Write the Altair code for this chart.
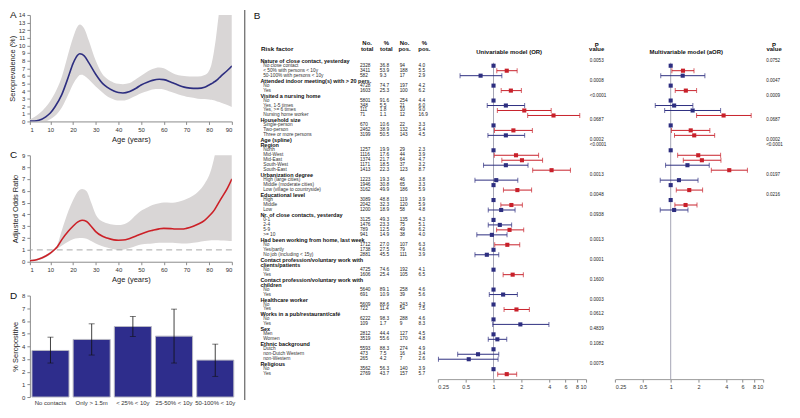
import altair as alt
import pandas as pd

FONT = "Liberation Sans"
RED = "#c8202a"
BLUE = "#2d2e80"
BAND = "#d9d6d6"
BAR = "#2e2d8c"

# ---------------- Panel A: seroprevalence by age ----------------
a_age = [1, 3, 5, 8, 10, 12, 15, 18, 20, 22, 23, 24, 25, 27, 30, 33, 35, 38, 40, 42,
         45, 48, 50, 53, 55, 58, 60, 63, 65, 68, 70, 73, 75, 78, 80, 81, 82, 83, 84, 85, 88, 90]
a_est = [0.05, 0.05, 0.15, 0.6, 1.1, 1.9, 3.5, 5.9, 7.6, 8.7, 8.9, 8.85, 8.6, 7.7, 6.2, 5.0, 4.5, 4.0, 3.8, 3.75,
         3.95, 4.4, 4.8, 5.2, 5.4, 5.55, 5.5, 5.2, 4.95, 4.6, 4.45, 4.35, 4.35, 4.5, 4.8, 4.95, 5.15, 5.35, 5.6, 5.9, 6.7, 7.3]
a_hi = [0.3, 0.6, 1.0, 1.9, 2.7, 3.7, 5.8, 9.0, 11.0, 12.5, 12.75, 12.6, 12.2, 10.6, 8.0, 6.2, 5.6, 5.1, 4.95, 4.9,
        5.05, 5.6, 6.0, 6.6, 6.9, 7.1, 7.0, 6.5, 6.2, 6.0, 5.95, 5.9, 5.9, 6.1, 6.7, 7.5, 9.0, 11.0, 13.5, 16.0, 24.0, 30.0]
a_lo = [0.0, 0.0, 0.0, 0.05, 0.3, 0.7, 1.8, 3.6, 4.9, 5.8, 6.1, 6.15, 6.0, 5.5, 4.6, 3.8, 3.3, 2.9, 2.75, 2.75,
        3.0, 3.4, 3.7, 4.0, 4.2, 4.25, 4.2, 3.9, 3.7, 3.4, 3.25, 3.1, 3.0, 2.95, 2.9, 2.85, 2.8, 2.7, 2.6, 2.5, 2.15, 1.9]

# ---------------- Panel C: adjusted odds ratio by age ----------------
c_age = [1, 3, 5, 8, 10, 12, 13, 15, 18, 20, 22, 24, 26, 28, 30, 33, 35, 38, 40, 42,
         45, 48, 50, 53, 55, 58, 60, 63, 65, 68, 70, 73, 75, 78, 80, 82, 83, 85, 88, 90]
c_est = [0.08, 0.12, 0.22, 0.48, 0.72, 1.05, 1.25, 1.85, 2.6, 3.0, 3.35, 3.5, 3.4, 3.0, 2.55, 2.15, 2.0, 1.85, 1.82, 1.83,
         1.97, 2.2, 2.35, 2.55, 2.65, 2.78, 2.82, 2.8, 2.77, 2.76, 2.82, 3.0, 3.17, 3.5, 3.87, 4.3, 4.6, 5.25, 6.2, 7.0]
c_hi = [0.18, 0.22, 0.32, 0.58, 0.82, 1.15, 1.4, 2.6, 4.3, 5.2, 5.9, 6.15, 5.95, 5.0, 4.0, 3.4, 3.25, 3.12, 3.1, 3.15,
        3.45, 4.0, 4.3, 4.6, 4.8, 4.95, 5.0, 4.98, 5.0, 5.15, 5.3, 5.6, 5.9, 6.6, 7.3, 8.6, 9.5, 11.5, 16.0, 20.0]
c_lo = [0.03, 0.06, 0.14, 0.38, 0.62, 0.95, 1.1, 1.35, 1.7, 1.9, 1.98, 2.0, 1.95, 1.75, 1.55, 1.3, 1.2, 1.05, 1.0, 1.02,
        1.15, 1.35, 1.45, 1.52, 1.55, 1.6, 1.6, 1.6, 1.58, 1.55, 1.55, 1.6, 1.65, 1.75, 1.8, 1.82, 1.82, 1.8, 1.78, 1.75]

# ---------------- Panel D: % seropositive by contact type ----------------
d_cat = ["No contacts", "Only > 1.5m", "< 25% < 10y", "25-50% < 10y", "50-100% < 10y"]
d_val = [3.67, 4.54, 5.56, 4.80, 2.91]
d_lo = [2.68, 3.31, 4.78, 2.68, 1.63]
d_hi = [4.72, 5.77, 6.35, 6.93, 4.17]

# ---------------- Panel B: risk factor table ----------------
tbl_label = [
    "Nature of close contact, yesterday", "No close contact", "< 50% with persons < 10y", "50-100% with persons < 10y",
    "Attended indoor meeting(s) with > 20 pers.", "No", "Yes",
    "Visited a nursing home", "No", "Yes, 1-5 times", "Yes, >= 6 times", "Nursing home worker",
    "Household size", "Single-person", "Two-person", "Three or more persons",
    "Age (spline)",
    "Region", "North", "Mid-West", "Mid-East", "South-West", "South-East",
    "Urbanization degree", "High (large cities)", "Middle (moderate cities)", "Low (village to countryside)",
    "Educational level", "High", "Middle", "Low",
    "Nr. of close contacts, yesterday", "0-1", "2-4", "5-9", ">= 10",
    "Had been working from home, last week", "No", "Yes/partly", "No job (including < 15y)",
    "Contact profession/voluntary work with", "clients/patients", "No", "Yes",
    "Contact profession/voluntary work with", "children", "No", "Yes",
    "Healthcare worker", "No", "Yes",
    "Works in a pub/restaurant/café", "No", "Yes",
    "Sex", "Men", "Women",
    "Ethnic background", "Dutch", "non-Dutch Western", "non-Western",
    "Religious", "No", "Yes",
]
tbl_ntot = [None, 2328, 3411, 582, None, 4728, 1603, None, 5801, 348, 111, 71, None, 670, 2462, 3199,
            None, None, 1257, 1116, 1374, 1171, 1413, None, 1223, 1946, 3162, None, 3089, 2042, 1200,
            None, 3125, 1476, 789, 941, None, 1712, 1738, 2881, None, None, 4725, 1606, None, None, 5640, 691,
            None, 5609, 722, None, 6222, 109, None, 2812, 3519, None, 5593, 473, 265, None, 3562, 2769]
tbl_ptot = [None, 36.8, 53.9, 9.3, None, 74.7, 25.3, None, 91.6, 5.5, 1.8, 1.1, None, 10.6, 38.9, 50.5,
            None, None, 19.9, 17.6, 21.7, 18.5, 22.3, None, 19.3, 30.8, 49.9, None, 48.8, 32.3, 18.9,
            None, 49.3, 23.3, 12.5, 14.9, None, 27.0, 27.5, 45.5, None, None, 74.6, 25.4, None, None, 89.1, 10.9,
            None, 88.6, 11.4, None, 98.3, 1.7, None, 44.4, 55.6, None, 88.3, 7.5, 4.2, None, 56.3, 43.7]
tbl_npos = [None, 94, 188, 17, None, 197, 100, None, 254, 21, 10, 12, None, 22, 132, 143,
            None, None, 29, 44, 64, 37, 123, None, 46, 65, 186, None, 119, 120, 58,
            None, 135, 75, 49, 38, None, 107, 79, 111, None, None, 192, 105, None, None, 258, 39,
            None, 243, 54, None, 288, 9, None, 127, 170, None, 274, 16, 7, None, 140, 157]
tbl_ppos = [None, 4.0, 5.5, 2.9, None, 4.2, 6.2, None, 4.4, 6.0, 9.0, 16.9, None, 3.3, 5.4, 4.5,
            None, None, 2.3, 3.9, 4.7, 3.2, 8.7, None, 3.8, 3.3, 5.9, None, 3.9, 5.9, 4.8,
            None, 4.3, 5.1, 6.2, 4.0, None, 6.3, 4.6, 3.9, None, None, 4.1, 6.5, None, None, 4.6, 5.6,
            None, 4.3, 7.5, None, 4.6, 8.3, None, 4.5, 4.8, None, 4.9, 3.4, 2.6, None, 3.9, 5.7]

# univariable model (row slot, OR, CI low, CI high)
uni_ref = [0, 4, 7, 12, 17, 24, 27, 31, 37, 41, 45, 48, 51, 54, 57, 61]
uni_slot = [1, 2, 5, 8, 9, 10, 13, 14, 18, 19, 20, 21, 23, 25, 28, 29, 32, 33, 34, 36, 38, 42, 46, 49, 52, 55, 58, 59, 62]
uni_or = [1.39, 0.725, 1.54, 1.36, 2.15, 4.45, 1.64, 1.36, 1.75, 2.03, 1.36, 4.24, 1.07, 1.81, 1.56, 1.21, 1.17, 1.49,
          0.96, 1.41, 0.847, 1.61, 1.27, 1.77, 1.95, 1.10, 0.68, 0.54, 1.39]
uni_lo = [1.085, 0.435, 1.21, 0.855, 1.10, 2.34, 1.025, 0.87, 1.02, 1.23, 0.78, 2.65, 0.63, 1.28, 1.20, 0.877, 0.877, 1.08,
          0.66, 1.03, 0.63, 1.27, 0.90, 1.30, 0.98, 0.877, 0.41, 0.254, 1.11]
uni_hi = [1.80, 1.23, 2.00, 2.17, 4.20, 8.55, 2.63, 2.17, 3.07, 3.39, 2.36, 6.78, 1.83, 2.58, 2.05, 1.71, 1.57, 2.12,
          1.40, 1.92, 1.14, 2.10, 1.81, 2.44, 3.97, 1.39, 1.14, 1.12, 1.78]
uni_p_slot = [-1, 3, 6, 11, 15, 16, 22, 26, 30, 35, 39, 43, 47, 50, 53, 56, 60]
uni_p = ["0.0053", "0.0008", "<0.0001", "0.0687", "0.0002", "<0.0001", "0.0013", "0.0048", "0.0938",
         "0.0013", "0.0001", "0.1600", "0.0003", "0.0612", "0.4839", "0.1082", "0.0075"]

# multivariable model
mul_ref = [0, 4, 7, 12, 17, 24, 27]
mul_slot = [1, 2, 5, 8, 9, 10, 13, 14, 18, 19, 20, 21, 23, 25, 28, 29]
mul_or = [1.36, 1.35, 1.46, 1.09, 1.73, 3.75, 1.65, 1.80, 1.99, 2.18, 1.52, 4.32, 1.23, 1.59, 1.45, 1.09]
mul_lo = [1.03, 0.78, 1.12, 0.68, 0.86, 1.91, 1.02, 1.10, 1.19, 1.37, 0.88, 2.76, 0.77, 1.15, 1.11, 0.77]
mul_hi = [1.79, 2.35, 1.91, 1.74, 3.48, 7.47, 2.66, 3.00, 3.48, 3.51, 2.62, 6.80, 1.98, 2.22, 1.93, 1.54]
mul_p_slot = [-1, 3, 6, 11, 15, 16, 22, 26]
mul_p = ["0.0752", "0.0047", "0.0009", "0.0687", "0.0002", "<0.0001", "0.0197", "0.0216"]

or_ticks = [0.25, 0.5, 1, 2, 4, 6, 8, 10]

# ====================== left column ======================
AGE_TICKS = [1, 10, 20, 30, 40, 50, 60, 70, 80, 90]


def panel_label(t):
    return alt.Chart(pd.DataFrame({"t": [t]})).mark_text(
        fontSize=10, align="left", baseline="top", color="#111"
    ).encode(text="t:N", x=alt.value(-20), y=alt.value(-5))


def curve_panel(age, est, lo, hi, color, ymax, title, label, height, extra=None):
    df = pd.DataFrame({"age": age, "est": est, "lo": lo, "hi": hi})
    xax = alt.Axis(values=AGE_TICKS, title="Age (years)", titlePadding=3, labelOverlap=False)
    yax = alt.Axis(values=list(range(ymax + 1)), title=title, labelOverlap=False, titlePadding=2)
    xs = alt.Scale(domain=[1, 90], nice=False, zero=False)
    ys = alt.Scale(domain=[0, ymax], nice=False)
    band = alt.Chart(df).mark_area(color=BAND, interpolate="monotone", clip=True).encode(
        x=alt.X("age:Q", scale=xs, axis=xax),
        y=alt.Y("lo:Q", scale=ys, axis=yax),
        y2="hi:Q",
    )
    line = alt.Chart(df).mark_line(color=color, strokeWidth=1.6, interpolate="monotone", clip=True).encode(
        x=alt.X("age:Q", scale=xs, axis=xax), y=alt.Y("est:Q", scale=ys, axis=yax)
    )
    layers = [band]
    if extra is not None:
        layers.append(extra)
    layers += [line, panel_label(label)]
    return alt.layer(*layers).properties(width=203, height=height)


dash = alt.Chart(pd.DataFrame({"y": [1]})).mark_rule(color="#a8a8a8", strokeDash=[6, 4], strokeWidth=1).encode(
    y=alt.Y("y:Q", axis=alt.Axis(values=list(range(10)), title="Adjusted Odds Ratio", labelOverlap=False,
                                 titlePadding=2)))

A = curve_panel(a_age, a_est, a_lo, a_hi, BLUE, 14, "Seroprevalence (%)", "A", 107)
C = curve_panel(c_age, c_est, c_lo, c_hi, "#cc2027", 9, "Adjusted Odds Ratio", "C", 107, extra=dash)

ddf = pd.DataFrame({"cat": d_cat, "val": d_val, "lo": d_lo, "hi": d_hi})
dx = alt.X("cat:N", sort=d_cat, scale=alt.Scale(paddingInner=0.1, paddingOuter=0.05),
           axis=alt.Axis(title=None, labelAngle=0, domain=False, ticks=False, labelPadding=3))
dyax = alt.Axis(values=list(range(9)), title="% Seropositive", labelOverlap=False, titlePadding=2)
dys = alt.Scale(domain=[0, 8], nice=False)
bars = alt.Chart(ddf).mark_bar(color=BAR, stroke="#b8b8c4", strokeWidth=1).encode(
    x=dx, y=alt.Y("val:Q", scale=dys, axis=dyax))
err = alt.Chart(ddf).mark_rule(color="#111", strokeWidth=0.8).encode(
    x=dx, y=alt.Y("lo:Q", scale=dys, axis=dyax), y2="hi:Q")
cap_hi = alt.Chart(ddf).mark_tick(color="#111", size=6, thickness=0.8).encode(
    x=dx, y=alt.Y("hi:Q", scale=dys, axis=dyax))
cap_lo = alt.Chart(ddf).mark_tick(color="#111", size=6, thickness=0.8).encode(
    x=dx, y=alt.Y("lo:Q", scale=dys, axis=dyax))
D = alt.layer(bars, err, cap_hi, cap_lo, panel_label("D")).properties(width=207, height=102)

left = alt.vconcat(A, C, D, spacing=34, bounds="flush")

# ====================== panel B ======================
B_W, B_H = 549, 366
yscale = alt.Scale(domain=[-1, 62], range=[46, 361], nice=False, zero=False)


def Y(field):
    return alt.Y(field, scale=yscale, axis=None)


tbl = pd.DataFrame({"label": tbl_label, "ntot": tbl_ntot, "ptot": tbl_ptot,
                    "npos": tbl_npos, "ppos": tbl_ppos})
tbl["slot"] = list(range(-1, len(tbl_label) - 1))
hdr = tbl[tbl["ntot"].isna()]
items = tbl[tbl["ntot"].notna()]

layersB = []
layersB.append(alt.Chart(pd.DataFrame({"k": [0]})).mark_rule(color="#444", strokeWidth=1).encode(
    x=alt.value(-1), y=alt.value(-5), y2=alt.value(387)))
layersB.append(alt.Chart(pd.DataFrame({"t": ["B"]})).mark_text(
    fontSize=10, align="left", baseline="top", color="#111").encode(text="t:N", x=alt.value(8), y=alt.value(-4)))

FS = 4.8
layersB.append(alt.Chart(hdr).mark_text(align="left", baseline="middle", fontSize=5.5, fontWeight="bold",
                                        color="#111").encode(x=alt.value(14.7), y=Y("slot:Q"), text="label:N"))
layersB.append(alt.Chart(items).mark_text(align="left", baseline="middle", fontSize=FS,
                                          color="#333").encode(x=alt.value(17.5), y=Y("slot:Q"), text="label:N"))
for col, xpos, fmt in [("ntot", 114.7, "d"), ("ptot", 134.7, ".1f"), ("npos", 154.7, "d"), ("ppos", 173.7, ".1f")]:
    layersB.append(alt.Chart(items).mark_text(align="left", baseline="middle", fontSize=FS, color="#222").encode(
        x=alt.value(xpos), y=Y("slot:Q"), text=alt.Text(f"{col}:Q", format=fmt)))


def header_text(lines, slots, xpos, align="center", size=6.0):
    return alt.Chart(pd.DataFrame({"t": lines, "slot": slots})).mark_text(
        align=align, baseline="middle", fontSize=size, fontWeight="bold", color="#111"
    ).encode(x=alt.value(xpos), y=Y("slot:Q"), text="t:N")


layersB.append(header_text(["Risk factor"], [-3.34], 15.3, align="left", size=6.3))
for l1, l2, cx in [("No.", "total", 122), ("%", "total", 141.3), ("No.", "pos.", 159.6), ("%", "pos.", 179.5)]:
    layersB.append(header_text([l1, l2], [-4.66, -3.34], cx))
layersB.append(header_text(["P", "value"], [-4.26, -3.26], 352.7))
layersB.append(header_text(["P", "value"], [-4.26, -3.26], 531))
layersB.append(header_text(["Univariable model (OR)"], [-2.8], 264.7))
layersB.append(header_text(["Multivariable model (aOR)"], [-2.8], 442.7))

for slots, texts, xpos in [(uni_p_slot, uni_p, 345.7), (mul_p_slot, mul_p, 523)]:
    layersB.append(alt.Chart(pd.DataFrame({"t": texts, "slot": slots})).mark_text(
        align="left", baseline="middle", fontSize=4.6, color="#222").encode(
        x=alt.value(xpos), y=Y("slot:Q"), text="t:N"))

color_enc = alt.Color("sig:N", scale=alt.Scale(domain=["sig", "ns"], range=[RED, BLUE]), legend=None)


def forest(ref_slots, slots, ors, los, his, rng):
    sc = alt.Scale(type="log", domain=[0.25, 10], range=rng, nice=False)
    df = pd.DataFrame({"slot": slots, "or": ors, "lo": los, "hi": his})
    df["sig"] = ["sig" if l > 1 else "ns" for l in los]
    pts = pd.concat([df[["slot", "or", "sig"]],
                     pd.DataFrame({"slot": ref_slots, "or": [1.0] * len(ref_slots), "sig": ["ns"] * len(ref_slots)})])
    ref = alt.Chart(pd.DataFrame({"v": [1.0], "s0": [-0.6], "s1": [63.0]})).mark_rule(
        color="#a4a4b4", strokeWidth=1).encode(
        x=alt.X("v:Q", scale=sc, axis=alt.Axis(values=or_ticks, format="~g", title=None, orient="bottom",
                                               labelFontSize=5.5, labelOverlap=False, tickSize=3,
                                               labelPadding=2, domainColor="#9a9a9a")),
        y=Y("s0:Q"), y2="s1:Q")
    ci = alt.Chart(df).mark_rule(strokeWidth=1).encode(
        x=alt.X("lo:Q", scale=sc, axis=None), x2="hi:Q", y=Y("slot:Q"), color=color_enc)
    c1 = alt.Chart(df).mark_tick(orient="vertical", size=5, thickness=1).encode(
        x=alt.X("lo:Q", scale=sc, axis=None), y=Y("slot:Q"), color=color_enc)
    c2 = alt.Chart(df).mark_tick(orient="vertical", size=5, thickness=1).encode(
        x=alt.X("hi:Q", scale=sc, axis=None), y=Y("slot:Q"), color=color_enc)
    sq = alt.Chart(pts).mark_square(size=17, opacity=1).encode(
        x=alt.X("or:Q", scale=sc, axis=None), y=Y("slot:Q"), color=color_enc)
    return [ref, ci, c1, c2, sq]


layersB += forest(uni_ref, uni_slot, uni_or, uni_lo, uni_hi, [193, 342])
layersB += forest(mul_ref, mul_slot, mul_or, mul_lo, mul_hi, [371.3, 519.7])

B = alt.layer(*layersB).resolve_scale(x="independent").properties(width=B_W, height=B_H)

chart = alt.hconcat(left, B, spacing=8).properties(
    padding={"left": 0, "top": 0, "right": 0, "bottom": 0}
).configure_view(stroke=None).configure_axis(
    labelFont=FONT, titleFont=FONT, labelFontSize=6, titleFontSize=7.5, titleFontWeight="normal",
    labelColor="#333", titleColor="#222", domainColor="#8a8a8a", tickColor="#8a8a8a",
    grid=False, tickSize=3, labelPadding=2, labelOverlap=False
).configure_text(font=FONT)

chart.save("out.html", embed_options={"renderer": "svg", "actions": False})
